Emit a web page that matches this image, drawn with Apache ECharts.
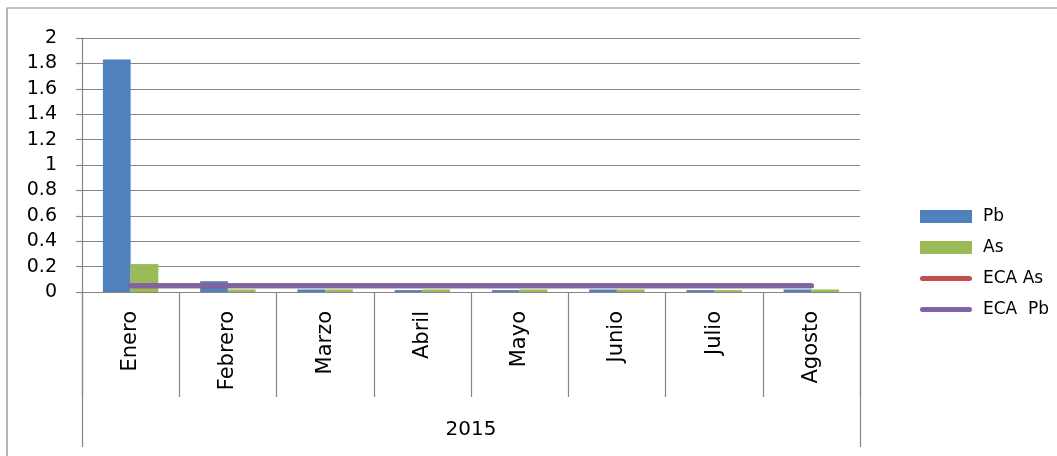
<!DOCTYPE html>
<html>
<head>
<meta charset="utf-8">
<script src="https://cdn.jsdelivr.net/npm/echarts@6/dist/echarts.min.js"></script>
<style>
  html, body { margin: 0; padding: 0; background: #fff; }
  #chart { width: 1057px; height: 456px; }
</style>
</head>
<body>
<div id="chart"></div>
<script>
// Monthly concentrations, 2015
const months = ['Enero', 'Febrero', 'Marzo', 'Abril', 'Mayo', 'Junio', 'Julio', 'Agosto'];
const yearLabel = ['2015'];
const pb = [1.83, 0.085, 0.02, 0.015, 0.015, 0.02, 0.015, 0.02];
const as = [0.22, 0.02, 0.02, 0.02, 0.02, 0.02, 0.015, 0.02];
const ecaAs = [0.05, 0.05, 0.05, 0.05, 0.05, 0.05, 0.05, 0.05];
const ecaPb = [0.05, 0.05, 0.05, 0.05, 0.05, 0.05, 0.05, 0.05];

const FONT = 'DejaVu Sans';
const GRAY = '#868686';
// thick rounded stroke used as the legend key for the limit lines
const LINE_ICON = 'path://M2.5,0 L49.5,0 A2.5,2.5 0 0 1 49.5,5 L2.5,5 A2.5,2.5 0 0 1 2.5,0 Z';

const chart = echarts.init(document.getElementById('chart'), null, { renderer: 'canvas' });

chart.setOption({
  animation: false,
  backgroundColor: '#ffffff',
  graphic: [{
    type: 'rect',
    shape: { x: 7, y: 8, width: 1200, height: 600 },
    style: { fill: 'none', stroke: GRAY, lineWidth: 1.2 },
    silent: true
  }],
  grid: { left: 82, right: 197, top: 38, bottom: 164, containLabel: false },
  legend: {
    orient: 'vertical',
    left: 920,
    top: 208,
    padding: 0,
    itemWidth: 52,
    itemHeight: 13,
    itemGap: 14,
    symbolKeepAspect: true,
    textStyle: { fontFamily: FONT, fontSize: 17, color: '#000', padding: [0, 0, 0, 6] },
    data: [
      { name: 'Pb', icon: 'rect' },
      { name: 'As', icon: 'rect' },
      { name: 'ECA As', icon: LINE_ICON, itemStyle: { color: '#C0504D' } },
      { name: 'ECA  Pb', icon: LINE_ICON, itemStyle: { color: '#8064A2' } }
    ]
  },
  xAxis: [{
    type: 'category',
    data: months,
    position: 'bottom',
    axisLine: { show: true, lineStyle: { color: GRAY, width: 1.2 } },
    axisTick: { show: true, interval: 0, length: 105, alignWithLabel: false, lineStyle: { color: GRAY, width: 1.2 } },
    axisLabel: { interval: 0, rotate: 90, margin: 19, fontFamily: FONT, fontSize: 21, color: '#000' },
    splitLine: { show: false }
  }, {
    type: 'category',
    data: yearLabel,
    position: 'bottom',
    axisLine: { show: false },
    axisTick: { show: true, interval: 0, length: 155, alignWithLabel: false, lineStyle: { color: GRAY, width: 1.2 } },
    axisLabel: { interval: 0, margin: 128, fontFamily: FONT, fontSize: 20, color: '#000' },
    splitLine: { show: false }
  }],
  yAxis: {
    type: 'value',
    min: 0,
    max: 2,
    interval: 0.2,
    axisLine: { show: true, lineStyle: { color: GRAY, width: 1.2 } },
    axisTick: { show: true, length: 6, lineStyle: { color: GRAY, width: 1.2 } },
    axisLabel: { margin: 25, fontFamily: FONT, fontSize: 19, color: '#000',
                 formatter: v => String(Math.round(v * 10) / 10) },
    splitLine: { show: true, lineStyle: { color: GRAY, width: 1.2 } }
  },
  series: [
    { name: 'Pb', type: 'bar', data: pb, barGap: '0%', barCategoryGap: '43%',
      itemStyle: { color: '#4F81BD' } },
    { name: 'As', type: 'bar', data: as, barGap: '0%', barCategoryGap: '43%',
      itemStyle: { color: '#9BBB59' } },
    { name: 'ECA As', type: 'line', data: ecaAs, symbol: 'none', z: 3,
      itemStyle: { color: '#C0504D' },
      lineStyle: { color: '#C0504D', width: 5, cap: 'round' } },
    { name: 'ECA  Pb', type: 'line', data: ecaPb, symbol: 'none', z: 4,
      itemStyle: { color: '#8064A2' },
      lineStyle: { color: '#8064A2', width: 5, cap: 'round' } }
  ]
});
</script>
</body>
</html>
